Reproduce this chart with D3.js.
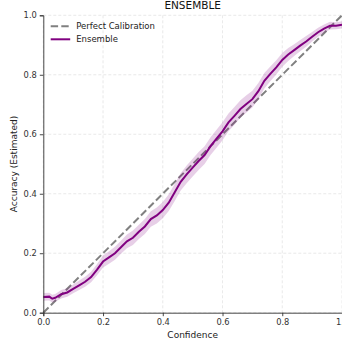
<!DOCTYPE html>
<html>
<head>
<meta charset="utf-8">
<script src="https://cdn.jsdelivr.net/npm/d3@7"></script>
<style>
  body { margin: 0; background: #fff; }
  svg { display: block; font-family: "DejaVu Sans", sans-serif; }
</style>
</head>
<body>
<div id="chart"></div>
<script>
// Data
var confidence = [0.00,0.02,0.03,0.04,0.06,0.08,0.10,0.12,0.14,0.16,0.18,0.20,0.22,0.24,0.26,0.28,0.30,0.32,0.34,0.36,0.38,0.40,0.42,0.44,0.46,0.48,0.50,0.52,0.54,0.56,0.58,0.60,0.62,0.64,0.66,0.68,0.70,0.72,0.74,0.76,0.78,0.80,0.82,0.84,0.86,0.88,0.90,0.92,0.94,0.96,0.98,1.00];
var accuracy = [0.053,0.054,0.047,0.050,0.062,0.068,0.080,0.092,0.104,0.120,0.145,0.172,0.186,0.200,0.220,0.240,0.252,0.272,0.290,0.315,0.327,0.345,0.370,0.405,0.440,0.465,0.488,0.510,0.530,0.560,0.585,0.610,0.640,0.662,0.685,0.702,0.718,0.745,0.780,0.803,0.825,0.850,0.868,0.883,0.898,0.912,0.928,0.943,0.955,0.965,0.965,0.968];
var spread = [0.013,0.013,0.013,0.013,0.014,0.014,0.015,0.016,0.017,0.018,0.019,0.020,0.021,0.022,0.022,0.023,0.024,0.024,0.025,0.026,0.027,0.027,0.028,0.029,0.029,0.030,0.030,0.030,0.030,0.030,0.030,0.030,0.030,0.030,0.029,0.029,0.028,0.027,0.026,0.025,0.024,0.023,0.022,0.020,0.019,0.018,0.016,0.015,0.014,0.013,0.012,0.012];
var ticks = [0, 0.2, 0.4, 0.6, 0.8, 1.0];

var data = confidence.map(function(c, i) {
	return { x: c, y: accuracy[i], lo: accuracy[i] - spread[i], hi: accuracy[i] + spread[i] };
});

var margin = { top: 15.3, right: 0, bottom: 29.3, left: 43.3 };
var totalW = 342, totalH = 342;
var width = 298.7;
var height = totalH - margin.top - margin.bottom;

var svg = d3.select("#chart").append("svg")
	.attr("width", totalW)
	.attr("height", totalH);

var g = svg.append("g")
	.attr("transform", "translate(" + margin.left + "," + margin.top + ")");

var x = d3.scaleLinear().domain([0, 1]).range([0, width]);
var y = d3.scaleLinear().domain([0, 1]).range([height, 0]);

// grid
g.selectAll(".gx").data(ticks).enter().append("line")
	.attr("x1", function(d) { return x(d); }).attr("x2", function(d) { return x(d); })
	.attr("y1", 0).attr("y2", height)
	.attr("stroke", "#e3e3e3").attr("stroke-width", 0.8).attr("stroke-dasharray", "3,2");
g.selectAll(".gy").data(ticks).enter().append("line")
	.attr("y1", function(d) { return y(d); }).attr("y2", function(d) { return y(d); })
	.attr("x1", 0).attr("x2", width)
	.attr("stroke", "#e3e3e3").attr("stroke-width", 0.8).attr("stroke-dasharray", "3,2");

// perfect calibration
g.append("line")
	.attr("x1", x(0)).attr("y1", y(0)).attr("x2", x(1)).attr("y2", y(1))
	.attr("stroke", "#808080").attr("stroke-width", 2)
	.attr("stroke-dasharray", "7.4,3.2");

// band
var area = d3.area()
	.x(function(d) { return x(d.x); })
	.y0(function(d) { return y(d.lo); })
	.y1(function(d) { return y(d.hi); });
g.append("path").datum(data)
	.attr("d", area)
	.attr("fill", "#800080").attr("fill-opacity", 0.19);

var line = d3.line()
	.x(function(d) { return x(d.x); })
	.y(function(d) { return y(d.y); });
g.append("path").datum(data)
	.attr("d", line)
	.attr("fill", "none").attr("stroke", "#800080").attr("stroke-width", 2);

// axes
var xAxis = g.append("g")
	.attr("transform", "translate(0," + height + ")")
	.call(d3.axisBottom(x).tickValues(ticks).tickFormat(d3.format(".1f")).tickSize(3.5).tickPadding(3));
var yAxis = g.append("g")
	.call(d3.axisLeft(y).tickValues(ticks).tickFormat(d3.format(".1f")).tickSize(3.5).tickPadding(3));
[xAxis, yAxis].forEach(function(a) {
	a.select(".domain").attr("stroke", "#333").attr("stroke-width", 0.9);
	a.selectAll(".tick line").attr("stroke", "#333").attr("stroke-width", 0.9);
	a.selectAll(".tick text").attr("fill", "#333").style("font-size", "8.3px").style("font-family", "DejaVu Sans");
});

// labels
svg.append("text")
	.attr("x", margin.left + width / 2).attr("y", 9.3)
	.attr("text-anchor", "middle")
	.style("font-size", "10.5px").attr("fill", "#111")
	.text("ENSEMBLE");
svg.append("text")
	.attr("x", margin.left + width / 2).attr("y", 338)
	.attr("text-anchor", "middle")
	.style("font-size", "9px").attr("fill", "#222")
	.text("Confidence");
svg.append("text")
	.attr("transform", "translate(17," + (margin.top + height / 2) + ") rotate(-90)")
	.attr("text-anchor", "middle")
	.style("font-size", "9px").attr("fill", "#222")
	.text("Accuracy (Estimated)");

// legend
var legend = svg.append("g").attr("transform", "translate(50.7,26.3)");
legend.append("line")
	.attr("x1", 0).attr("x2", 19.5).attr("y1", 0).attr("y2", 0)
	.attr("stroke", "#808080").attr("stroke-width", 2).attr("stroke-dasharray", "7.4,3.2");
legend.append("text")
	.attr("x", 25.5).attr("y", 3)
	.style("font-size", "8.5px").attr("fill", "#222")
	.text("Perfect Calibration");
legend.append("line")
	.attr("x1", 0).attr("x2", 19.5).attr("y1", 13).attr("y2", 13)
	.attr("stroke", "#800080").attr("stroke-width", 2);
legend.append("text")
	.attr("x", 25.5).attr("y", 16)
	.style("font-size", "8.5px").attr("fill", "#222")
	.text("Ensemble");
</script>
</body>
</html>
